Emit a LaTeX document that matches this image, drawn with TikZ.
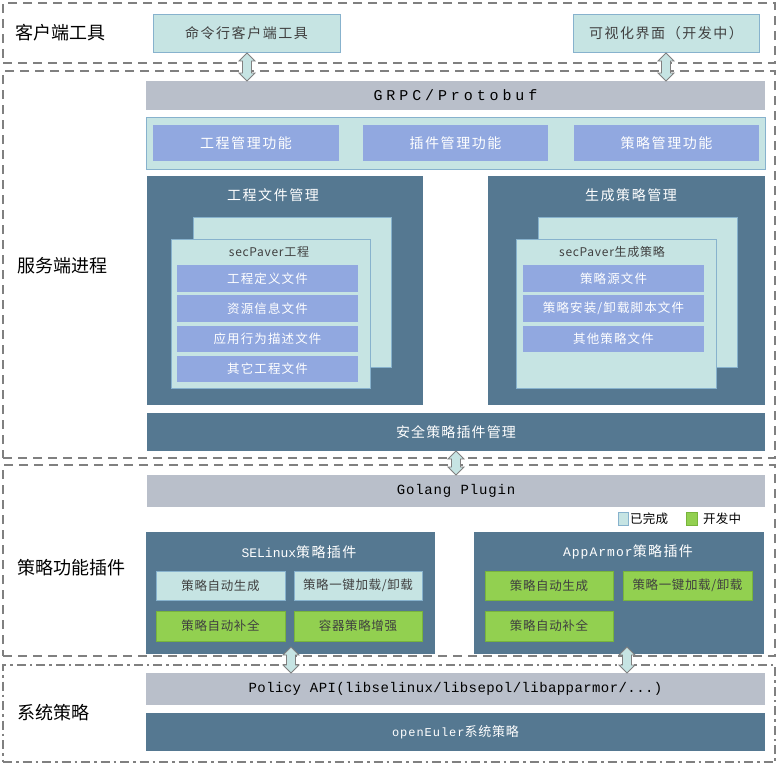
\documentclass[tikz,border=0pt]{standalone}
\usepackage{fontspec}
\setmainfont{Noto Sans CJK SC}
\newfontfamily\cjk{Noto Sans CJK SC}
\newfontfamily\mono{Liberation Mono}
\usetikzlibrary{calc}
\definecolor{dk}{RGB}{85,120,145}
\definecolor{gb}{RGB}{185,191,202}
\definecolor{cy}{RGB}{198,228,227}
\definecolor{cyb}{RGB}{135,178,205}
\definecolor{bl}{RGB}{145,168,224}
\definecolor{gr}{RGB}{146,208,80}
\definecolor{grb}{RGB}{120,180,60}
\definecolor{dl}{RGB}{128,128,128}
\definecolor{tx}{RGB}{64,64,64}
\newcommand\cs[2]{\fontsize{#1}{#1}\selectfont\addfontfeature{LetterSpace=#2}}
\newcommand\ms[2]{\mono\fontsize{#1}{#1}\selectfont\addfontfeature{LetterSpace=#2}}
\newcommand\mybox[7]{\node[#1, minimum width={(#5-#3)*1pt}, minimum height={(#6-#4)*1pt}] (#2) at (#3,#4) {#7};}
\newcommand\barrow[2]{\draw[barr] let \p1=(#1), \p2=(#2) in
  (\x1,\y1) -- (\x1+8pt,\y1-8pt) -- (\x1+4.5pt,\y1-8pt) -- (\x1+4.5pt,\y2+8pt) -- (\x1+8pt,\y2+8pt) -- (\x1,\y2)
  -- (\x1-8pt,\y2+8pt) -- (\x1-4.5pt,\y2+8pt) -- (\x1-4.5pt,\y1-8pt) -- (\x1-8pt,\y1-8pt) -- cycle;}
\tikzset{
  bx/.style={anchor=north west, inner sep=0pt, outer sep=0pt, align=center},
  cybox/.style={bx, fill=cy, draw=cyb, line width=0.9pt, text=tx},
  blbox/.style={bx, fill=bl, text=white},
  dkbox/.style={bx, fill=dk, text=white},
  gbbox/.style={bx, fill=gb, text=black},
  grbox/.style={bx, fill=gr, draw=grb, line width=0.6pt, text=tx},
  secbox/.style={bx, draw=dl, line width=1.8pt, dash pattern=on 9pt off 6pt},
  secbox2/.style={bx, draw=dl, line width=1.8pt, dash pattern=on 9pt off 4pt on 2.5pt off 4pt},
  seclabel/.style={inner sep=0pt, text=black, font=\cs{18}{0}},
  barr/.style={fill=cy, draw=dl, line width=0.8pt, line join=miter},
  lbl/.style={inner sep=0pt},
}
\begin{document}
\begin{tikzpicture}[x=1pt,y=-1pt]
\useasboundingbox (0,0) rectangle (782,766);
\fill[white] (0,0) rectangle (782,766);
% sections
\mybox{secbox}{sec1}{3}{3}{775}{63}{}
\mybox{secbox}{sec2}{3}{71}{775}{458}{}
\mybox{secbox}{sec3}{3}{465}{775}{656}{}
\mybox{secbox2}{sec4}{3}{665}{775}{762}{}
\node[seclabel] (l1) at (60,33) {客户端工具};
\node[seclabel] (l2) at (62,266) {服务端进程};
\node[seclabel] (l3) at (71,568) {策略功能插件};
\node[seclabel] (l4) at (53,713) {系统策略};
% client
\mybox{cybox}{cli1}{153}{14}{340}{52}{\cs{14}{11}命令行客户端工具}
\mybox{cybox}{cli2}{573}{14}{759}{52}{\cs{14}{11}可视化界面（开发中）}
% server
\mybox{gbbox}{grpc}{146}{81}{765}{110}{\ms{15}{26}GRPC/Protobuf}
\mybox{cybox}{func}{146}{117}{765}{169}{}
\mybox{blbox}{f1}{153}{125}{339}{161}{\cs{14}{11}工程管理功能}
\mybox{blbox}{f2}{363}{125}{548}{161}{\cs{14}{11}插件管理功能}
\mybox{blbox}{f3}{574}{125}{759}{161}{\cs{14}{11}策略管理功能}
% project files
\mybox{dkbox}{pm}{147}{176}{423}{405}{}
\node[lbl, text=white, font=\cs{14}{11}] (pmt) at (273,195) {工程文件管理};
\mybox{cybox}{pmb}{193}{217}{391}{367}{}
\mybox{cybox}{pmf}{171}{239}{370}{388}{}
\node[lbl, text=tx, font=\cs{12}{6}] (pmft) at (269,252) {secPaver工程};
\mybox{blbox}{p1}{177}{265}{358}{292}{\cs{12.5}{9}工程定义文件}
\mybox{blbox}{p2}{177}{295}{358}{322}{\cs{12.5}{9}资源信息文件}
\mybox{blbox}{p3}{177}{326}{358}{352}{\cs{12.5}{9}应用行为描述文件}
\mybox{blbox}{p4}{177}{356}{358}{382}{\cs{12.5}{9}其它工程文件}
% policy gen
\mybox{dkbox}{gm}{488}{176}{765}{405}{}
\node[lbl, text=white, font=\cs{14}{11}] (gmt) at (631,195) {生成策略管理};
\mybox{cybox}{gmb}{538}{217}{737}{367}{}
\mybox{cybox}{gmf}{516}{239}{716}{388}{}
\node[lbl, text=tx, font=\cs{12}{6}] (gmft) at (612,252) {secPaver生成策略};
\mybox{blbox}{g1}{523}{265}{704}{292}{\cs{12.5}{9}策略源文件}
\mybox{blbox}{g2}{523}{295}{704}{322}{\cs{12.5}{9}策略安装/卸载脚本文件}
\mybox{blbox}{g3}{523}{326}{704}{352}{\cs{12.5}{9}其他策略文件}
\mybox{dkbox}{spm}{147}{413}{765}{451}{\cs{14}{8}安全策略插件管理}
% plugins
\mybox{gbbox}{golang}{147}{475}{765}{507}{\ms{14}{6}Golang Plugin}
\mybox{cybox}{lgc}{618}{512}{628}{525}{}
\node[lbl, anchor=west, font=\cs{12.5}{2}] (lgct) at (630,519) {已完成};
\mybox{grbox}{lgg}{686}{512}{697}{525}{}
\node[lbl, anchor=west, font=\cs{12.5}{2}] (lggt) at (703,519) {开发中};
\mybox{dkbox}{sel}{146}{532}{435}{654}{}
\node[lbl, text=white] (selt) at (299,552) {{\ms{13}{0}SELinux}\cs{14}{10}策略插件};
\mybox{cybox}{s1}{156}{571}{285}{600}{\cs{12.5}{5}策略自动生成}
\mybox{cybox}{s2}{294}{571}{422}{600}{\cs{12.5}{5}策略一键加载/卸载}
\mybox{grbox}{s3}{156}{611}{285}{641}{\cs{12.5}{5}策略自动补全}
\mybox{grbox}{s4}{294}{611}{422}{641}{\cs{12.5}{5}容器策略增强}
\mybox{dkbox}{app}{474}{532}{764}{654}{}
\node[lbl, text=white] (appt) at (628,552) {{\ms{13}{8}AppArmor}\cs{14}{10}策略插件};
\mybox{grbox}{a1}{485}{571}{613}{600}{\cs{12.5}{5}策略自动生成}
\mybox{grbox}{a2}{623}{571}{752}{600}{\cs{12.5}{5}策略一键加载/卸载}
\mybox{grbox}{a3}{485}{611}{613}{641}{\cs{12.5}{5}策略自动补全}
% system
\mybox{gbbox}{api}{146}{673}{765}{705}{\ms{14}{3}Policy API(libselinux/libsepol/libapparmor/...)}
\mybox{dkbox}{oe}{146}{713}{765}{751}{{\ms{12}{8}openEuler}\cs{13}{6}系统策略}
% arrows
\coordinate (c1t) at ($(cli1.south west)+(94,1)$);
\coordinate (c1b) at (c1t |- grpc.north);
\barrow{c1t}{c1b}
\coordinate (c2t) at ($(cli2.south west)+(93,1)$);
\coordinate (c2b) at (c2t |- grpc.north);
\barrow{c2t}{c2b}
\coordinate (c3t) at ($(spm.south west)+(309,0)$);
\coordinate (c3b) at (c3t |- golang.north);
\barrow{c3t}{c3b}
\coordinate (c4t) at ($(sel.south west)+(145,-7)$);
\coordinate (c4b) at (c4t |- api.north);
\barrow{c4t}{c4b}
\coordinate (c5t) at ($(app.south west)+(153,-7)$);
\coordinate (c5b) at (c5t |- api.north);
\barrow{c5t}{c5b}
\end{tikzpicture}
\end{document}
